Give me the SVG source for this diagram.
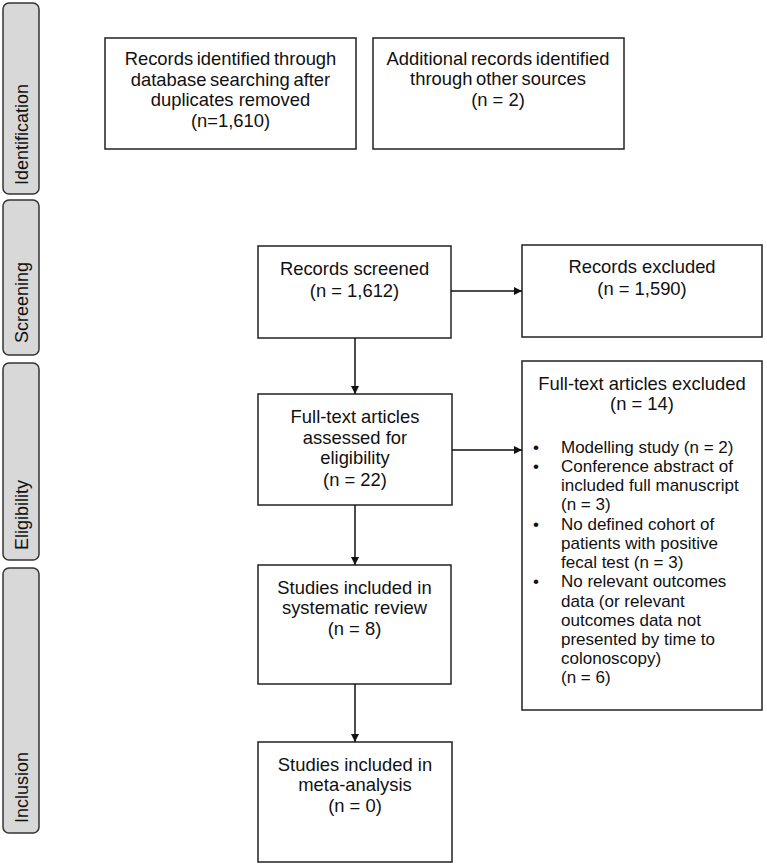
<svg xmlns="http://www.w3.org/2000/svg" width="767" height="865" viewBox="0 0 767 865">
<defs>
<style>
.box{fill:#fff;stroke:#222;stroke-width:1.5}
.phase{fill:#d8d8d8;stroke:#333;stroke-width:1.5}
.t{font-family:"Liberation Sans",Arial,sans-serif;font-size:18.4px;fill:#111;text-anchor:middle}
.tl{font-family:"Liberation Sans",Arial,sans-serif;font-size:17px;fill:#111}
.ph{font-family:"Liberation Sans",Arial,sans-serif;font-size:18px;fill:#111}
.tight{word-spacing:-1.5px}
.conn{stroke:#111;stroke-width:1.5;fill:none;marker-end:url(#arr)}
</style>
<marker id="arr" viewBox="0 0 10 10" refX="10" refY="5" markerWidth="9" markerHeight="8" markerUnits="userSpaceOnUse" orient="auto">
<path d="M0,0 L10,5 L0,10 z" fill="#111"/>
</marker>
</defs>
<rect width="767" height="865" fill="#fff"/>

<g id="phase-identification">
<rect class="phase" x="3" y="3" width="36" height="191" rx="6"/>
<text class="ph" transform="translate(28,185) rotate(-90)">Identification</text>
</g>
<g id="phase-screening">
<rect class="phase" x="3" y="200" width="36" height="155" rx="6"/>
<text class="ph" transform="translate(28,343) rotate(-90)">Screening</text>
</g>
<g id="phase-eligibility">
<rect class="phase" x="3" y="363" width="36" height="197" rx="6"/>
<text class="ph" transform="translate(28,550) rotate(-90)">Eligibility</text>
</g>
<g id="phase-inclusion">
<rect class="phase" x="3" y="568" width="36" height="265" rx="6"/>
<text class="ph" transform="translate(28,823) rotate(-90)">Inclusion</text>
</g>

<g id="node-identified">
<rect class="box" x="105" y="38" width="251" height="111"/>
<text class="t tight" x="230.5" y="65">Records identified through</text>
<text class="t tight" x="230.5" y="86">database searching after</text>
<text class="t" x="230.5" y="106">duplicates removed</text>
<text class="t" x="230.5" y="127">(n=1,610)</text>
</g>
<g id="node-additional">
<rect class="box" x="373" y="38" width="251" height="111"/>
<text class="t tight" x="498" y="65">Additional records identified</text>
<text class="t tight" x="498" y="85">through other sources</text>
<text class="t" x="498" y="106">(n = 2)</text>
</g>
<g id="node-screened">
<rect class="box" x="258" y="246" width="193" height="92"/>
<text class="t" x="354.5" y="275">Records screened</text>
<text class="t" x="354.5" y="297">(n = 1,612)</text>
</g>
<g id="node-excluded">
<rect class="box" x="522" y="245" width="240" height="92"/>
<text class="t" x="642" y="273">Records excluded</text>
<text class="t" x="642" y="295">(n = 1,590)</text>
</g>
<g id="node-fulltext">
<rect class="box" x="258" y="394" width="194" height="111"/>
<text class="t" x="355" y="423">Full-text articles</text>
<text class="t" x="355" y="444">assessed for</text>
<text class="t" x="355" y="464">eligibility</text>
<text class="t" x="355" y="486">(n = 22)</text>
</g>
<g id="node-fulltext-excluded">
<rect class="box" x="522" y="361" width="240" height="349"/>
<text class="t" x="642" y="390">Full-text articles excluded</text>
<text class="t" x="642" y="410">(n = 14)</text>
<g class="tl">
<text x="533" y="453">•</text>
<text x="561" y="453">Modelling study (n = 2)</text>
<text x="533" y="472">•</text>
<text x="561" y="472">Conference abstract of</text>
<text x="561" y="491">included full manuscript</text>
<text x="561" y="510">(n = 3)</text>
<text x="533" y="530">•</text>
<text x="561" y="530">No defined cohort of</text>
<text x="561" y="549">patients with positive</text>
<text x="561" y="568">fecal test (n = 3)</text>
<text x="533" y="587">•</text>
<text x="561" y="587">No relevant outcomes</text>
<text x="561" y="607">data (or relevant</text>
<text x="561" y="626">outcomes data not</text>
<text x="561" y="645">presented by time to</text>
<text x="561" y="664">colonoscopy)</text>
<text x="561" y="683">(n = 6)</text>
</g>
</g>
<g id="node-systematic">
<rect class="box" x="258" y="565" width="193" height="119"/>
<text class="t" x="354.5" y="594">Studies included in</text>
<text class="t" x="354.5" y="614">systematic review</text>
<text class="t" x="354.5" y="635">(n = 8)</text>
</g>
<g id="node-meta">
<rect class="box" x="258" y="742" width="194" height="120"/>
<text class="t" x="355" y="771">Studies included in</text>
<text class="t" x="355" y="791">meta-analysis</text>
<text class="t" x="355" y="812">(n = 0)</text>
</g>

<g id="connectors">
<line class="conn" x1="451" y1="291" x2="522" y2="291"/>
<line class="conn" x1="355" y1="338" x2="355" y2="394"/>
<line class="conn" x1="452" y1="450" x2="522" y2="450"/>
<line class="conn" x1="355" y1="505" x2="355" y2="565"/>
<line class="conn" x1="355" y1="684" x2="355" y2="742"/>
</g>
</svg>
